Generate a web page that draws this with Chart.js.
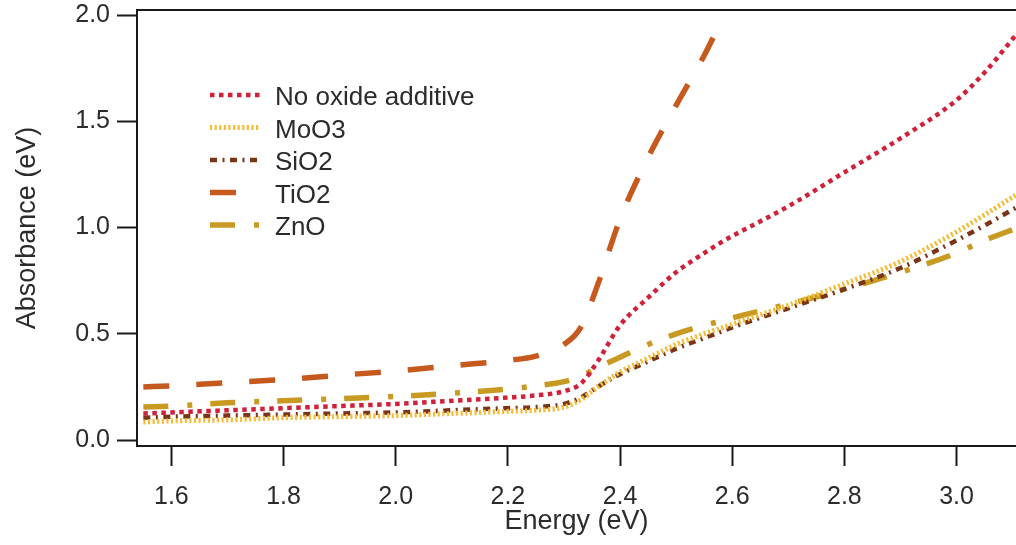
<!DOCTYPE html>
<html>
<head>
<meta charset="utf-8">
<title>Absorbance vs Energy</title>
<script src="https://cdn.jsdelivr.net/npm/chart.js@4.4.1/dist/chart.umd.min.js"></script>
<style>
  html, body { margin: 0; padding: 0; background: #fff; overflow: hidden; }
  #grafico { display: block; }
</style>
</head>
<body>
<canvas id="grafico" width="1016" height="545"></canvas>
<script>
// Energía (eV) y absorbancia de cada muestra
const energia = [1.55, 1.6, 1.7, 1.8, 1.9, 2.0, 2.1, 2.2, 2.25, 2.3, 2.33, 2.36, 2.4, 2.45, 2.5, 2.55, 2.58, 2.6, 2.7, 2.8, 2.9, 3.0, 3.05, 3.11];
const sinOxido = [0.125, 0.13, 0.14, 0.15, 0.16, 0.17, 0.185, 0.2, 0.21, 0.23, 0.265, 0.37, 0.54, 0.67, 0.79, 0.88, 0.93, 0.96, 1.1, 1.26, 1.42, 1.6, 1.73, 1.92];
const moo3 = [0.085, 0.09, 0.095, 0.105, 0.11, 0.115, 0.125, 0.135, 0.14, 0.155, 0.19, 0.25, 0.32, 0.385, 0.45, 0.5, 0.527, 0.545, 0.635, 0.735, 0.84, 0.98, 1.06, 1.16];
const sio2 = [0.105, 0.11, 0.115, 0.12, 0.125, 0.13, 0.14, 0.15, 0.155, 0.17, 0.2, 0.25, 0.31, 0.37, 0.43, 0.48, 0.51, 0.53, 0.62, 0.71, 0.81, 0.94, 1.01, 1.1];
const tio2 = [0.25, 0.255, 0.27, 0.285, 0.305, 0.325, 0.35, 0.375, 0.395, 0.45, 0.53, 0.73, 1.04, 1.33, 1.575, 1.81, 1.97, null, null, null, null, null, null, null];
const zno = [0.155, 0.16, 0.175, 0.185, 0.195, 0.205, 0.22, 0.24, 0.255, 0.275, 0.3, 0.34, 0.39, 0.45, 0.5, 0.54, 0.56, 0.575, 0.64, 0.71, 0.79, 0.88, 0.94, 1.0];

const nombres = ["No oxide additive", "MoO3", "SiO2", "TiO2", "ZnO"];
const ticksX = [1.6, 1.8, 2.0, 2.2, 2.4, 2.6, 2.8, 3.0];
const ticksY = [0, 0.5, 1.0, 1.5, 2.0];

const colorTexto = "#2b2b2b";
const colorEje = "#1a1a1a";

Chart.defaults.font.family = "'Liberation Sans', Arial, sans-serif";

function puntos(serie) {
  return energia.map((e, i) => ({ x: e, y: serie[i] }));
}

// Leyenda dentro del área y borde superior del marco
const leyendaInterna = {
  id: "leyendaInterna",
  afterDraw(chart) {
    const { ctx, chartArea } = chart;
    ctx.save();
    ctx.strokeStyle = colorEje;
    ctx.lineWidth = 2;
    ctx.beginPath();
    ctx.moveTo(chartArea.left, chartArea.top);
    ctx.lineTo(chartArea.right, chartArea.top);
    ctx.stroke();

    ctx.font = "26px 'Liberation Sans', Arial, sans-serif";
    ctx.textBaseline = "middle";
    chart.data.datasets.forEach((ds, i) => {
      const x = chartArea.left + 73;
      const y = chartArea.top + 85 + i * 32.5;
      ctx.setLineDash(ds.borderDash);
      ctx.lineWidth = ds.borderWidth;
      ctx.strokeStyle = ds.borderColor;
      ctx.beginPath();
      ctx.moveTo(x, y);
      ctx.lineTo(x + 50, y);
      ctx.stroke();
      ctx.setLineDash([]);
      ctx.fillStyle = colorTexto;
      ctx.fillText(ds.label, x + 65, y + 3);
    });
    ctx.restore();
  }
};

const ctx = document.getElementById("grafico").getContext("2d");

new Chart(ctx, {
  type: "line",
  data: {
    datasets: [
      { label: nombres[0], data: puntos(sinOxido), borderColor: "#d0213a", borderWidth: 4.5, borderDash: [4.5, 4.5] },
      { label: nombres[1], data: puntos(moo3), borderColor: "#f2bd3c", borderWidth: 5, borderDash: [2.2, 2.4] },
      { label: nombres[2], data: puntos(sio2), borderColor: "#7a3418", borderWidth: 4.5, borderDash: [7, 5.5, 2, 5.5] },
      { label: nombres[3], data: puntos(tio2), borderColor: "#c65a1e", borderWidth: 5.5, borderDash: [26, 27] },
      { label: nombres[4], data: puntos(zno), borderColor: "#c99a22", borderWidth: 5.5, borderDash: [25, 19, 5, 18] }
    ]
  },
  options: {
    responsive: false,
    animation: false,
    layout: { padding: { top: 10, right: 0, bottom: 0, left: 0 } },
    elements: {
      point: { radius: 0 },
      line: { cubicInterpolationMode: "monotone", fill: false, borderCapStyle: "butt" }
    },
    plugins: {
      legend: { display: false },
      tooltip: { enabled: false }
    },
    scales: {
      x: {
        type: "linear",
        min: 1.5387,
        max: 3.106,
        afterBuildTicks: (s) => { s.ticks = ticksX.map((v) => ({ value: v })); },
        afterFit: (s) => { s.height = 99; s.paddingLeft = 0; s.paddingRight = 0; },
        grid: { drawOnChartArea: false, drawTicks: true, tickLength: 20, tickWidth: 2, tickColor: colorEje },
        border: { display: true, color: colorEje, width: 2 },
        ticks: {
          padding: 16,
          color: colorTexto,
          font: { size: 25 },
          maxRotation: 0,
          autoSkip: false,
          callback: (v) => Number(v).toFixed(1)
        },
        title: {
          display: true,
          text: "Energy (eV)",
          color: colorTexto,
          font: { size: 27 },
          padding: { top: 0, bottom: 7 }
        }
      },
      y: {
        type: "linear",
        min: -0.028,
        max: 2.024,
        afterBuildTicks: (s) => { s.ticks = ticksY.map((v) => ({ value: v })); },
        afterFit: (s) => { s.width = 137; s.paddingTop = 0; s.paddingBottom = 0; },
        grid: { drawOnChartArea: false, drawTicks: true, tickLength: 20, tickWidth: 2, tickColor: colorEje },
        border: { display: true, color: colorEje, width: 2 },
        ticks: {
          padding: 7,
          color: colorTexto,
          font: { size: 25 },
          callback: (v) => Number(v).toFixed(1)
        },
        title: {
          display: true,
          text: "Absorbance (eV)",
          color: colorTexto,
          font: { size: 27 },
          padding: { top: 11, bottom: 0 }
        }
      }
    }
  },
  plugins: [leyendaInterna]
});
</script>
</body>
</html>
